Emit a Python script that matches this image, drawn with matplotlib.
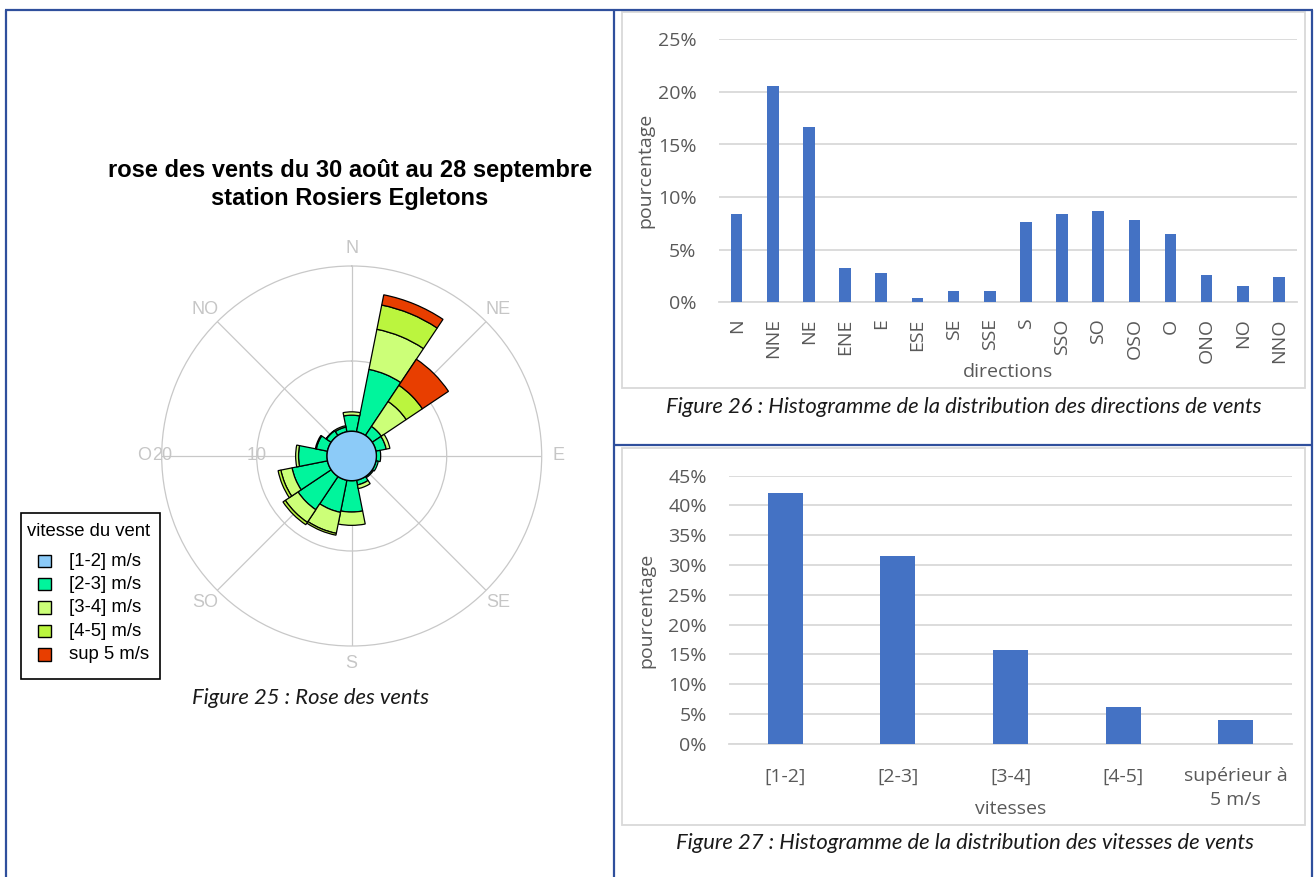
import numpy as np
import matplotlib
matplotlib.use("Agg")
import matplotlib.pyplot as plt
from matplotlib.patches import Rectangle

W, H = 1314, 877

# ---------------- data ----------------
rose_dirs = ["N", "NNE", "NE", "ENE", "E", "ESE", "SE", "SSE",
             "S", "SSO", "SO", "OSO", "O", "ONO", "NO", "NNO"]
calm_radius = 2.6          # [1-2] m/s drawn as central disc
spd_2_3 = [1.7, 6.7, 1.15, 1.1, 0.45, 0.25, 0.15, 0.5, 3.3, 3.45, 4.2, 3.8, 3.0, 1.2, 0.6, 0.5]
spd_3_4 = [0.35, 4.3, 3.15, 0.4, 0.0, 0.0, 0.0, 0.4, 1.4, 2.25, 1.6, 1.2, 0.3, 0.1, 0.05, 0.15]
spd_4_5 = [0.0, 2.6, 2.05, 0.0, 0.0, 0.0, 0.0, 0.0, 0.0, 0.2, 0.3, 0.3, 0.0, 0.0, 0.0, 0.0]
spd_sup5 = [0.0, 1.1, 3.3, 0.0, 0.0, 0.0, 0.0, 0.0, 0.0, 0.0, 0.0, 0.0, 0.0, 0.0, 0.0, 0.0]
speed_classes = ["[1-2] m/s", "[2-3] m/s", "[3-4] m/s", "[4-5] m/s", "sup 5 m/s"]
compass_labels = ["N", "NE", "E", "SE", "S", "SO", "O", "NO"]
ring_values = [10, 20]

dir_pct = [8.43, 20.56, 16.67, 3.23, 2.82, 0.44, 1.08, 1.08,
           7.60, 8.43, 8.65, 7.79, 6.50, 2.60, 1.52, 2.41]
speed_cats = ["[1-2]", "[2-3]", "[3-4]", "[4-5]", "supérieur à\n5 m/s"]
speed_pct = [42.04, 31.57, 15.73, 6.21, 3.97]

# ---------------- styles ----------------
class_colors = ["#8ccbf8", "#00f59c", "#ccff78", "#bbf53e", "#e83e00"]
border_col = "#2f4f9c"
bar_col = "#4472c4"
grid_col = "#d9d9d9"
tick_col = "#595959"
rose_grid = "#c8c8c8"
cap_font = "Lato"
xl_font = "Open Sans"
r_font = "Liberation Sans"
cap_size = 15.8

fig = plt.figure(figsize=(W / 100, H / 100), dpi=100)

# background canvas in pixel coordinates
bg = fig.add_axes([0, 0, 1, 1])
bg.set_xlim(0, W)
bg.set_ylim(H, 0)
bg.axis("off")
bg.set_zorder(0)

# table borders
for (x0, y0, x1, y1) in [(5, 10, 1313, 10), (6, 10, 6, H), (614, 10, 614, H),
                         (1312, 10, 1312, H), (614, 445, 1313, 445)]:
    bg.plot([x0, x1], [y0, y1], color=border_col, lw=1.6, solid_capstyle="butt")

# chart boxes
bg.add_patch(Rectangle((622, 12), 683, 376, fill=False, ec=grid_col, lw=1.3))
bg.add_patch(Rectangle((622, 448), 683, 377, fill=False, ec=grid_col, lw=1.3))

# ---------------- wind rose ----------------
bg.text(350, 170, "rose des vents du 30 août au 28 septembre", ha="center", va="center",
        fontsize=17, fontweight="bold", family=r_font, color="black")
bg.text(350, 198, "station Rosiers Egletons", ha="center", va="center",
        fontsize=17, fontweight="bold", family=r_font, color="black")

cx, cy, rpx = 351.7, 456.0, 190.0
rax = fig.add_axes([(cx - rpx) / W, 1 - (cy + rpx) / H, 2 * rpx / W, 2 * rpx / H],
                   projection="polar")
rax.set_zorder(1)
rax.set_theta_zero_location("N")
rax.set_theta_direction(-1)
rax.set_ylim(0, ring_values[-1])
rax.set_yticks(ring_values[:-1])
rax.set_yticklabels([])
rax.set_xticks(np.deg2rad(np.arange(0, 360, 45)))
rax.set_xticklabels([])
rax.grid(True, color=rose_grid, lw=0.9)
rax.spines["polar"].set_color(rose_grid)
rax.spines["polar"].set_linewidth(0.9)
rax.set_axisbelow(True)
rax.patch.set_alpha(0)

for ang, lab in zip(np.arange(0, 360, 45), compass_labels):
    rax.text(np.deg2rad(ang), 21.8, lab, ha="center", va="center", fontsize=13,
             color="#c6c6c6", family=r_font, clip_on=False)
for rv in ring_values:
    rax.text(np.deg2rad(270), rv, str(rv), ha="center", va="center", fontsize=13,
             color="#c6c6c6", family=r_font, clip_on=False)

theta = np.deg2rad(np.arange(16) * 22.5)
width = 2 * np.pi / 16
bottom = np.full(16, calm_radius)
tcirc = np.linspace(0, 2 * np.pi, 361)
rax.fill(tcirc, np.full_like(tcirc, calm_radius), facecolor=class_colors[0],
         edgecolor="black", lw=1.0, zorder=5)
for vals, col in zip([spd_2_3, spd_3_4, spd_4_5, spd_sup5], class_colors[1:]):
    vals = np.asarray(vals)
    m = vals > 0
    rax.bar(theta[m], vals[m], width=width, bottom=bottom[m], color=col,
            edgecolor="black", lw=0.9, zorder=3)
    bottom = bottom + vals

# legend (drawn as a framed key)
bg.add_patch(Rectangle((21, 513), 138.5, 165.5, fill=False, ec="black", lw=1.2))
bg.text(27, 531, "vitesse du vent", ha="left", va="center", fontsize=13.3,
        family=r_font, color="black")
for i, (lab, col) in enumerate(zip(speed_classes, class_colors)):
    yy = 561 + i * 23.4
    bg.add_patch(Rectangle((37.5, yy - 6.5), 13, 12.5, fc=col, ec="black", lw=1.0))
    bg.text(69, yy, lab, ha="left", va="center", fontsize=13.3, family=r_font, color="black")

bg.text(310, 698, "Figure 25 : Rose des vents", ha="center", va="center",
        fontsize=cap_size, style="italic", family=cap_font, color="#1a1a1a")

# ---------------- histogram of directions ----------------
a1 = fig.add_axes([718.6 / W, 1 - 302.3 / H, 578.4 / W, 263.0 / H])
a1.set_zorder(1)
x1 = np.arange(len(rose_dirs))
a1.bar(x1, dir_pct, width=0.32, color=bar_col, zorder=3)
a1.set_xlim(-0.5, len(rose_dirs) - 0.5)
a1.set_ylim(0, 25)
a1.set_yticks(np.arange(0, 26, 5))
a1.set_yticklabels([f"{v}%" for v in range(0, 26, 5)])
a1.set_xticks(x1)
a1.set_xticklabels(rose_dirs, rotation=90)
a1.tick_params(axis="x", length=0, pad=11.5, labelsize=14, labelcolor=tick_col)
a1.tick_params(axis="y", length=0, pad=16, labelsize=14, labelcolor=tick_col)
for lab in a1.get_xticklabels() + a1.get_yticklabels():
    lab.set_family(xl_font)
a1.grid(axis="y", color=grid_col, lw=1.3, zorder=0)
for s in ["top", "right", "left"]:
    a1.spines[s].set_visible(False)
a1.spines["bottom"].set_color(grid_col)
a1.spines["bottom"].set_linewidth(1.3)
a1.patch.set_alpha(0)
bg.text(1008, 372, "directions", ha="center", va="center", fontsize=14,
        family=xl_font, color=tick_col)
bg.text(645, 170, "pourcentage", ha="center", va="center", rotation=90, fontsize=14,
        family=xl_font, color=tick_col)
bg.text(964, 407, "Figure 26 : Histogramme de la distribution des directions de vents",
        ha="center", va="center", fontsize=cap_size, style="italic", family=cap_font, color="#1a1a1a")

# ---------------- histogram of speeds ----------------
a2 = fig.add_axes([729 / W, 1 - 743.7 / H, 563 / W, 268.0 / H])
a2.set_zorder(1)
x2 = np.arange(len(speed_cats))
a2.bar(x2, speed_pct, width=0.31, color=bar_col, zorder=3)
a2.set_xlim(-0.5, len(speed_cats) - 0.5)
a2.set_ylim(0, 45)
a2.set_yticks(np.arange(0, 46, 5))
a2.set_yticklabels([f"{v}%" for v in range(0, 46, 5)])
a2.set_xticks(x2)
a2.set_xticklabels(speed_cats, linespacing=1.4)
a2.tick_params(axis="x", length=0, pad=17, labelsize=14, labelcolor=tick_col)
a2.tick_params(axis="y", length=0, pad=16, labelsize=14, labelcolor=tick_col)
for lab in a2.get_xticklabels() + a2.get_yticklabels():
    lab.set_family(xl_font)
a2.grid(axis="y", color=grid_col, lw=1.3, zorder=0)
for s in ["top", "right", "left"]:
    a2.spines[s].set_visible(False)
a2.spines["bottom"].set_color(grid_col)
a2.spines["bottom"].set_linewidth(1.3)
a2.patch.set_alpha(0)
bg.text(1010.5, 809, "vitesses", ha="center", va="center", fontsize=14,
        family=xl_font, color=tick_col)
bg.text(646, 610, "pourcentage", ha="center", va="center", rotation=90, fontsize=14,
        family=xl_font, color=tick_col)
bg.text(965, 843, "Figure 27 : Histogramme de la distribution des vitesses de vents",
        ha="center", va="center", fontsize=cap_size, style="italic", family=cap_font, color="#1a1a1a")

fig.savefig("out.png", dpi=100)
